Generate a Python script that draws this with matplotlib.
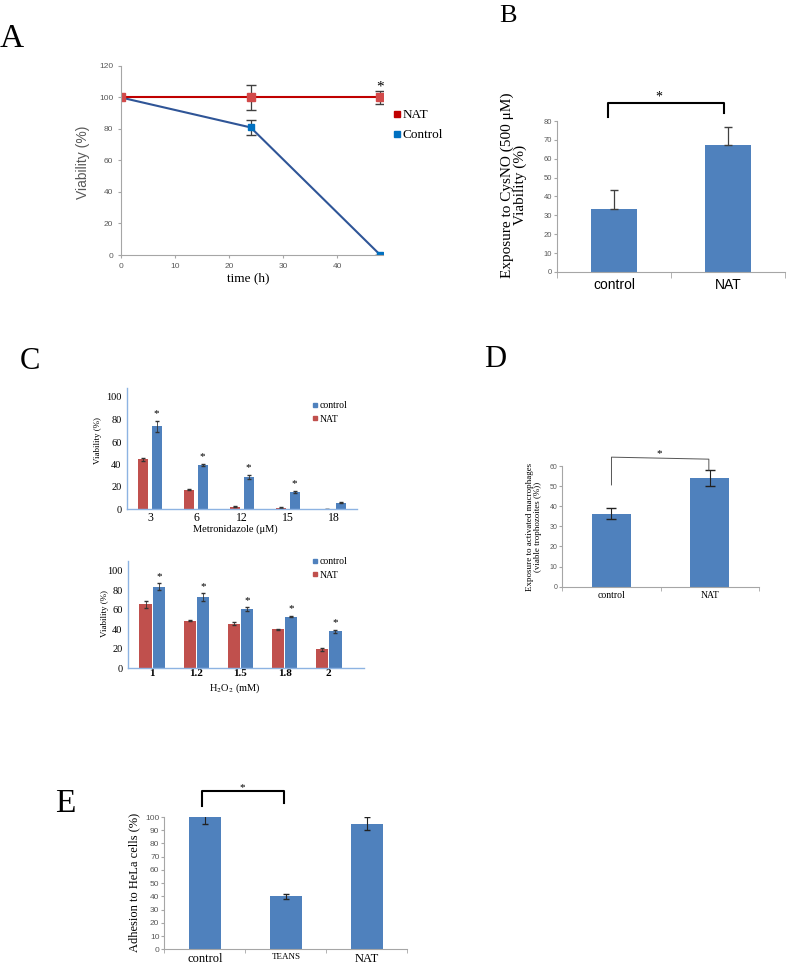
import matplotlib
matplotlib.use('Agg')
import matplotlib.pyplot as plt
from matplotlib.lines import Line2D
import numpy as np

plt.rcParams['font.family'] = ['Liberation Serif', 'DejaVu Serif']
plt.rcParams['mathtext.fontset'] = 'stix'

W, H = 787, 963
SANS = ['Liberation Sans', 'DejaVu Sans']
SERIF = ['Liberation Serif', 'DejaVu Serif']
BLUE = '#4F81BD'
RED = '#C0504D'
GRAY = '#595959'
AXGRAY = '#A6A6A6'
LIGHTBLUE = '#8DB3E2'

# ---- A: viability over time
time_h = [0, 24, 48]
nat_time = [100, 100, 100]
nat_time_err = [0, 8, 4]
ctrl_time = [100, 81, 0]
ctrl_time_err = [0, 5, 0]

# ---- B: CysNO exposure
b_groups = ['control', 'NAT']
b_vals = [33.5, 67.5]
b_err = [10, 9.5]

# ---- C: metronidazole
metro_doses = ['3', '6', '12', '15', '18']
metro_ctrl = [74, 39.5, 29, 15.5, 6]
metro_ctrl_err = [5, 1, 2, 1, 0.5]
metro_nat = [44.5, 17.5, 2.5, 1.5, 0]
metro_nat_err = [1.5, 0.5, 0.5, 0.3, 0]
metro_sig = [True, True, True, True, False]

# ---- C: H2O2
h2o2_doses = ['1', '1.2', '1.5', '1.8', '2']
h2o2_ctrl = [84, 73, 60.5, 53, 38]
h2o2_ctrl_err = [3.5, 4, 2, 0.8, 1.5]
h2o2_nat = [65.5, 48.5, 45.5, 40, 19.5]
h2o2_nat_err = [4, 0.5, 1.5, 0.5, 1.5]
h2o2_sig = [True, True, True, True, True]

# ---- D: activated macrophages
d_groups = ['control', 'NAT']
d_vals = [36.3, 54]
d_err = [2.6, 3.8]

# ---- E: adhesion
e_groups = ['control', 'TEANS', 'NAT']
e_vals = [100, 40, 95]
e_err = [5, 2, 5]
e_label_sizes = [9, 6.5, 9]

fig = plt.figure(figsize=(W / 100, H / 100), dpi=100)


def px_axes(x0, y0, x1, y1):
    return fig.add_axes([x0 / W, 1 - y1 / H, (x1 - x0) / W, (y1 - y0) / H])


def place(ax, px, py):
    # figure pixel (from top-left) -> axes fraction
    return ax.transAxes.inverted().transform((px, H - py))


def excel_spines(ax, color, lw=0.8):
    for s in ['top', 'right']:
        ax.spines[s].set_visible(False)
    for s in ['left', 'bottom']:
        ax.spines[s].set_color(color)
        ax.spines[s].set_linewidth(lw)


def set_ylab(ax, text, px, py, **kw):
    ax.set_ylabel(text, va='center', ha='center', **kw)
    ax.yaxis.set_label_coords(*place(ax, px, py))


def set_xlab(ax, text, px, py, **kw):
    ax.set_xlabel(text, va='center', ha='center', **kw)
    ax.xaxis.set_label_coords(*place(ax, px, py))


# ================= A
axA = px_axes(121, 66, 383, 255)
axA.errorbar(time_h, ctrl_time, yerr=ctrl_time_err, color='#2F5597', lw=1.5,
             marker='s', ms=5, mfc='#0070C0', mec='#0070C0',
             ecolor='#404040', elinewidth=0.9, capsize=3.5)
axA.errorbar(time_h, nat_time, yerr=nat_time_err, color='#C00000', lw=1.5,
             marker='s', ms=6, mfc='#D24A4A', mec='#D24A4A',
             ecolor='#404040', elinewidth=0.9, capsize=3.5)
axA.set_xlim(0, 48.5)
axA.set_ylim(0, 120)
axA.set_xticks(range(0, 50, 10))
axA.set_yticks(range(0, 121, 20))
excel_spines(axA, AXGRAY)
axA.tick_params(length=2.5, color=AXGRAY, labelsize=6, labelcolor=GRAY, pad=3)
for lab in axA.get_xticklabels() + axA.get_yticklabels():
    lab.set_family(SANS)
axA.text(48, 106.5, '*', ha='center', va='center', fontsize=11)
set_ylab(axA, 'Viability (%)', 83, 162, family=SANS, fontsize=10, color=GRAY)
set_xlab(axA, 'time (h)', 248, 278, fontsize=9.5)
axA.legend(handles=[Line2D([], [], ls='none', marker='s', ms=5, color='#C00000'),
                    Line2D([], [], ls='none', marker='s', ms=5, color='#0070C0')],
           labels=['NAT', 'Control'], loc='upper left', frameon=False,
           bbox_to_anchor=(393 / W, 1 - 109 / H), bbox_transform=fig.transFigure,
           handlelength=0.6, handletextpad=0.15, borderpad=0, borderaxespad=0,
           labelspacing=0.6, prop={'family': SERIF, 'size': 9.5})

# ================= B
axB = px_axes(557, 121, 785, 272)
xb = np.arange(len(b_groups))
axB.bar(xb, b_vals, width=0.4, color=BLUE)
axB.errorbar(xb, b_vals, yerr=[[0] * len(b_err), b_err], fmt='none',
             ecolor='#404040', elinewidth=0.9, capsize=3)
axB.set_xlim(-0.5, 1.5)
axB.set_ylim(0, 80)
axB.set_yticks(range(0, 81, 10))
axB.set_xticks(xb)
axB.set_xticklabels(b_groups, family=SANS, fontsize=10)
axB.set_xticks([-0.5, 0.5, 1.5], minor=True)
excel_spines(axB, AXGRAY)
axB.tick_params(axis='x', which='major', length=0, pad=4)
axB.tick_params(axis='x', which='minor', length=4, color=AXGRAY)
axB.tick_params(axis='y', length=2, color=AXGRAY, labelsize=5.5, labelcolor=GRAY, pad=1.5)
for lab in axB.get_yticklabels():
    lab.set_family(SANS)
axB.plot([-0.05, -0.05, 0.965, 0.965], [82, 89.5, 89.5, 84], color='k', lw=1.5,
         clip_on=False)
axB.text(0.395, 92.5, '*', ha='center', va='center', fontsize=10)
set_ylab(axB, 'Exposure to CysNO (500 \u03bcM)\nViability (%)', 514, 185,
         fontsize=11, linespacing=1.0)


# ================= C (two grouped bar charts)
def grouped(ax, cats, nat, nat_err, ctrl, ctrl_err, sig, width, off, capsize):
    x = np.arange(len(cats))
    ax.bar(x - off, nat, width=width, color=RED)
    ax.bar(x + off, ctrl, width=width, color=BLUE)
    ax.errorbar(x - off, nat, yerr=nat_err, fmt='none', ecolor='#333333',
                elinewidth=0.6, capsize=capsize)
    ax.errorbar(x + off, ctrl, yerr=ctrl_err, fmt='none', ecolor='#333333',
                elinewidth=0.6, capsize=capsize)
    for xi, v, e, s in zip(x, ctrl, ctrl_err, sig):
        if s:
            ax.annotate('*', (xi + off, v + e), xytext=(0, 5),
                        textcoords='offset points', ha='center', va='center',
                        fontsize=8)
    ax.set_xticks(x)
    excel_spines(ax, LIGHTBLUE, lw=1)
    ax.set_yticks(range(0, 101, 20))
    ax.tick_params(axis='y', length=0, labelsize=7.5, pad=4)
    ax.tick_params(axis='x', length=0, pad=2)
    ax.legend(handles=[Line2D([], [], ls='none', marker='s', ms=3.5, color=BLUE),
                       Line2D([], [], ls='none', marker='s', ms=3.5, color=RED)],
              labels=['control', 'NAT'], loc='upper left', frameon=False,
              handlelength=0.5, handletextpad=0.2, borderpad=0, borderaxespad=0,
              bbox_transform=fig.transFigure, prop={'family': SERIF, 'size': 7})
    return x


axC1 = px_axes(127, 388, 357, 509.5)
grouped(axC1, metro_doses, metro_nat, metro_nat_err, metro_ctrl, metro_ctrl_err,
        metro_sig, 0.217, 0.145, 1.5)
axC1.set_xlim(-0.5, 4.5)
axC1.set_ylim(0, 108)
axC1.set_xticklabels(metro_doses, fontsize=8.5)
axC1.get_legend().set_bbox_to_anchor((313 / W, 1 - 401 / H), transform=fig.transFigure)
set_ylab(axC1, 'Viability (%)', 98, 440, fontsize=6.5)
set_xlab(axC1, 'Metronidazole (\u03bcM)', 235, 529, fontsize=7.5)

axC2 = px_axes(128, 561.3, 364, 668)
grouped(axC2, h2o2_doses, h2o2_nat, h2o2_nat_err, h2o2_ctrl, h2o2_ctrl_err,
        h2o2_sig, 0.28, 0.15, 1.5)
axC2.set_xlim(-0.55, 4.8)
axC2.set_ylim(0, 110)
axC2.set_xticklabels(h2o2_doses, fontsize=8, fontweight='bold')
axC2.tick_params(axis='x', pad=0.8)
axC2.get_legend().set_bbox_to_anchor((313 / W, 1 - 557 / H), transform=fig.transFigure)
axC2.get_legend()._legend_box.sep = 0
set_ylab(axC2, 'Viability (%)', 105, 613, fontsize=6.5)
set_xlab(axC2, 'H$_2$O$_2$ (mM)', 235, 688, fontsize=7.5)

# ================= D
axD = px_axes(562.3, 466, 759, 586.7)
xd = np.arange(len(d_groups))
axD.bar(xd, d_vals, width=0.4, color=BLUE)
axD.errorbar(xd, d_vals, yerr=d_err, fmt='none', ecolor='#222222',
             elinewidth=0.8, capsize=3.5)
axD.set_xlim(-0.5, 1.5)
axD.set_ylim(0, 60)
axD.set_yticks(range(0, 61, 10))
axD.set_xticks(xd)
axD.set_xticklabels(d_groups, fontsize=7)
axD.set_xticks([-0.5, 0.5, 1.5], minor=True)
excel_spines(axD, AXGRAY)
axD.tick_params(axis='x', which='major', length=0, pad=3)
axD.tick_params(axis='x', which='minor', length=3, color=AXGRAY)
axD.tick_params(axis='y', length=2, color=AXGRAY, labelsize=5, labelcolor=GRAY, pad=1.5)
for lab in axD.get_yticklabels():
    lab.set_family(SANS)
axD.plot([0, 0, 0.99, 0.99], [50.6, 64.4, 63.4, 58], color='#555555', lw=0.7,
         clip_on=False)
axD.text(0.49, 66, '*', ha='center', va='center', fontsize=8)
set_ylab(axD, 'Exposure to activated macrophages\n(viable trophozoites (%))', 534, 527,
         fontsize=6.5, linespacing=1.0)

# ================= E
axE = px_axes(164.3, 817, 407.3, 949.3)
xe = np.arange(len(e_groups))
axE.bar(xe, e_vals, width=0.4, color=BLUE)
axE.errorbar(xe, e_vals, yerr=e_err, fmt='none', ecolor='#222222',
             elinewidth=0.8, capsize=2.5)
axE.set_xlim(-0.5, 2.5)
axE.set_ylim(0, 100)
axE.set_yticks(range(0, 101, 10))
axE.set_xticks(xe)
axE.set_xticklabels(e_groups)
for lab, fs in zip(axE.get_xticklabels(), e_label_sizes):
    lab.set_fontsize(fs)
axE.set_xticks([-0.5, 0.5, 1.5, 2.5], minor=True)
excel_spines(axE, AXGRAY)
axE.tick_params(axis='x', which='major', length=0, pad=2.5)
axE.tick_params(axis='x', which='minor', length=3, color=AXGRAY)
axE.tick_params(axis='y', length=2, color=AXGRAY, labelsize=6, labelcolor=GRAY, pad=1.5)
for lab in axE.get_yticklabels():
    lab.set_family(SANS)
axE.plot([-0.03, -0.03, 0.978, 0.978], [108.3, 119.8, 119.8, 110.8], color='k',
         lw=1.5, clip_on=False)
axE.text(0.468, 122.4, '*', ha='center', va='center', fontsize=8)
set_ylab(axE, 'Adhesion to HeLa cells (%)', 134, 882, fontsize=9)

# ================= panel letters
for letter, x, y, fs in [('A', 12, 47, 24), ('B', 508, 22, 19), ('C', 30, 369, 22),
                         ('D', 495, 367, 22), ('E', 65, 812, 24)]:
    fig.text(x / W, 1 - y / H, letter, ha='center', va='baseline', fontsize=fs)

fig.savefig('out.png', dpi=100, facecolor='white')
